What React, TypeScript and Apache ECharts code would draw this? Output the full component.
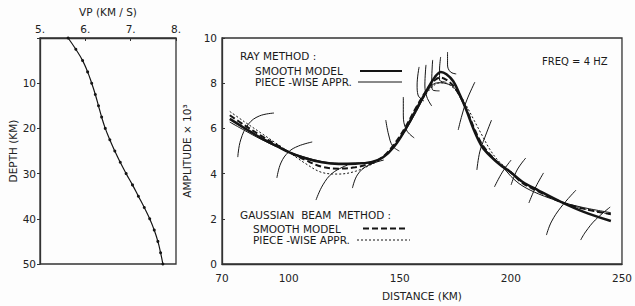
import React, { useEffect, useRef } from 'react';
import * as echarts from 'echarts';

// ---- Left panel: velocity profile ----
const depthKm = [0, 2.5, 5, 7.5, 10, 12.5, 15, 17.5, 20, 22.5, 25, 27.5, 30, 32.5, 35, 37.5, 40, 42.5, 45, 47.5, 50];
const vpKmS = [5.62, 5.79, 5.94, 6.05, 6.14, 6.22, 6.29, 6.36, 6.44, 6.54, 6.65, 6.77, 6.9, 7.04, 7.17, 7.3, 7.42, 7.52, 7.6, 7.66, 7.71];
const vpTicks = [5, 6, 7, 8];
const depthTicks = [10, 20, 30, 40, 50];

// ---- Right panel: amplitude vs distance ----
const distanceKm = [73.5, 80, 87.5, 95, 100, 107.5, 115, 122.5, 130, 137.5, 142.5, 147.5, 152.5, 157.5, 162.5, 166, 168.5, 171, 174, 177, 180, 183.5, 187, 191, 195, 200, 205, 212.5, 222.5, 232.5, 245];
const raySmooth = [6.42, 6.02, 5.58, 5.2, 4.95, 4.68, 4.5, 4.43, 4.44, 4.52, 4.72, 5.2, 5.95, 6.85, 7.75, 8.3, 8.5, 8.4, 8.1, 7.5, 6.8, 5.9, 5.2, 4.75, 4.4, 4.05, 3.65, 3.25, 2.75, 2.32, 1.9];
const rayPiecewise = [6.28, 5.92, 5.52, 5.17, 4.95, 4.72, 4.53, 4.46, 4.47, 4.53, 4.72, 5.2, 5.9, 6.75, 7.65, 8.0, 8.02, 7.98, 7.85, 7.4, 6.8, 5.95, 5.25, 4.8, 4.45, 3.88, 3.47, 3.1, 2.75, 2.5, 2.27];
const gbSmooth = [6.58, 6.15, 5.68, 5.25, 4.96, 4.6, 4.3, 4.22, 4.28, 4.47, 4.75, 5.3, 6.05, 6.95, 7.75, 8.15, 8.25, 8.15, 7.9, 7.45, 6.85, 6.0, 5.3, 4.8, 4.42, 4.05, 3.6, 3.2, 2.75, 2.45, 2.2];
const gbPiecewise = [6.75, 6.3, 5.8, 5.3, 4.96, 4.45, 4.05, 3.98, 4.1, 4.42, 4.72, 5.28, 6.0, 6.85, 7.6, 7.95, 8.02, 8.0, 7.8, 7.5, 7.0, 6.35, 5.7, 5.0, 4.5, 4.1, 3.62, 3.22, 2.75, 2.45, 2.2];

// short ray-method branches of the piece-wise model: [distance, amplitude]
const rayBranches: number[][][] = [
  [[77.1, 4.73], [78.4, 5.49], [81.9, 6.19], [86.8, 6.55], [93.4, 6.68]],
  [[94.7, 3.81], [96.5, 4.47], [100, 4.96], [104.4, 5.22], [110.6, 5.4]],
  [[112.3, 2.83], [115.4, 3.5], [119.8, 4.03], [126.5, 4.38]],
  [[128.7, 3.36], [130.9, 3.94], [135.3, 4.34], [142.8, 4.6]],
  [[143.7, 6.37], [145, 5.71], [146.8, 5.22], [149.8, 5.0]],
  [[151.6, 7.39], [151.6, 6.59], [153, 5.93], [156.5, 5.58]],
  [[158.7, 8.72], [157.8, 7.92], [158.2, 7.48], [160.9, 7.21]],
  [[161.8, 8.81], [161.3, 7.92], [162.2, 7.39], [164.4, 6.99]],
  [[164.8, 9.03], [164.4, 8.14], [164.8, 7.7], [167.9, 7.66]],
  [[168.4, 9.16], [167.9, 8.58], [167.9, 8.14], [170.6, 8.05]],
  [[171.5, 9.38], [171.5, 8.81], [172.8, 8.5], [175.4, 8.41]],
  [[183.8, 8.05], [180.2, 7.26], [178, 6.59], [176.3, 5.93]],
  [[191.3, 6.37], [188.2, 5.58], [186, 4.96], [184.7, 4.16]],
  [[200.1, 4.6], [196.2, 4.07], [192.6, 3.41]],
  [[206.7, 4.69], [202.8, 4.16], [200.1, 3.5]],
  [[214.7, 4.03], [211.2, 3.41], [208.1, 2.7]],
  [[229.3, 3.27], [222.6, 2.52], [218.2, 1.86], [216, 1.28]],
  [[244.7, 2.52], [238, 1.95], [233.6, 1.42], [231.4, 1.06]],
];
const distanceTicks = [70, 100, 150, 200, 250];
const ampTicks = [0, 2, 4, 6, 8, 10];

const INK = '#151515';
const AXIS = '#333';
const FONT = 'DejaVu Sans';

export default function App() {
  const ref = useRef<HTMLDivElement>(null);
  useEffect(() => {
    document.body.style.margin = '0';
    const chart = echarts.init(ref.current!, null, { renderer: 'svg' });
    const pair = (xs: number[], ys: number[]) => xs.map((x, i) => [x, ys[i]]);
    const axisLine = { show: true, lineStyle: { color: AXIS, width: 1.3 } };
    const label = { color: '#222', fontFamily: FONT, fontSize: 10.5 };
    const nameStyle = { color: '#222', fontFamily: FONT, fontSize: 10.5 };
    const txt = (text: string, x: number, y: number, size = 10.5) => ({
      type: 'text', x, y,
      style: { text, fill: '#1a1a1a', font: `${size}px "${FONT}"`, verticalAlign: 'middle' },
    });
    const lg = (x1: number, x2: number, y: number, w: number, dash?: number[]) => ({
      type: 'line',
      shape: { x1, y1: y, x2, y2: y },
      style: { stroke: INK, lineWidth: w, lineDash: dash || null },
    });

    const curve = (data: number[], width: number, type: any) => ({
      type: 'line', xAxisIndex: 1, yAxisIndex: 1, data: pair(distanceKm, data),
      smooth: 0.35, showSymbol: false, symbol: 'none',
      lineStyle: { color: INK, width, type },
      z: 3,
    });

    chart.setOption({
      animation: false,
      backgroundColor: '#fdfdfd',
      grid: [
        { left: 40, top: 38, width: 136, height: 226, show: true, borderColor: AXIS, borderWidth: 1.3, backgroundColor: 'transparent' },
        { left: 222, top: 38, width: 408, height: 226, show: true, borderColor: AXIS, borderWidth: 1.3, backgroundColor: 'transparent' },
      ],
      xAxis: [
        {
          gridIndex: 0, type: 'value', position: 'top', min: 5, max: 8, interval: 1,
          axisLine, splitLine: { show: false },
          axisTick: { show: true, inside: true, length: 3, lineStyle: { color: AXIS } },
          axisLabel: { ...label, margin: 4, formatter: (v: number) => (vpTicks.includes(v) ? `${v}.` : '') },
          name: 'VP (KM / S)', nameLocation: 'middle', nameGap: 21, nameTextStyle: nameStyle,
        },
        {
          gridIndex: 1, type: 'value', min: 70, max: 250, interval: 10,
          axisLine, splitLine: { show: false }, axisTick: { show: false },
          axisLabel: { ...label, margin: 8, formatter: (v: number) => (distanceTicks.includes(Math.round(v)) ? String(Math.round(v)) : '') },
          name: 'DISTANCE (KM)', nameLocation: 'middle', nameGap: 26, nameTextStyle: nameStyle,
        },
      ],
      yAxis: [
        {
          gridIndex: 0, type: 'value', inverse: true, min: 0, max: 50, interval: 10,
          axisLine, splitLine: { show: false },
          axisTick: { show: true, length: 3, lineStyle: { color: AXIS } },
          axisLabel: { ...label, margin: 4, formatter: (v: number) => (depthTicks.includes(v) ? String(v) : '') },
          name: 'DEPTH (KM)', nameLocation: 'middle', nameGap: 22, nameTextStyle: nameStyle,
        },
        {
          gridIndex: 1, type: 'value', min: 0, max: 10, interval: 2,
          axisLine, splitLine: { show: false },
          axisTick: { show: true, inside: true, length: 3, lineStyle: { color: AXIS } },
          axisLabel: { ...label, margin: 5, formatter: (v: number) => (ampTicks.includes(v) ? String(v) : '') },
          name: 'AMPLITUDE × 10³', nameLocation: 'middle', nameGap: 20, nameTextStyle: nameStyle,
        },
      ],
      series: [
        {
          type: 'line', xAxisIndex: 0, yAxisIndex: 0, data: pair(vpKmS, depthKm),
          smooth: 0.5, symbol: 'circle', symbolSize: 3, showSymbol: true,
          lineStyle: { color: INK, width: 1.2 }, itemStyle: { color: INK },
        },
        curve(raySmooth, 2.5, 'solid'),
        curve(rayPiecewise, 1, 'solid'),
        curve(gbSmooth, 2, [6, 3]),
        curve(gbPiecewise, 1, [2, 2]),
        ...rayBranches.map((b) => ({
          type: 'line', xAxisIndex: 1, yAxisIndex: 1, data: b,
          smooth: 0.4, showSymbol: false, symbol: 'none',
          lineStyle: { color: INK, width: 1 }, z: 2,
        })),
      ],
      graphic: [
        txt('RAY METHOD :', 240, 56),
        txt('SMOOTH MODEL', 255, 71),
        txt('PIECE -WISE APPR.', 255, 82),
        lg(360, 402, 71, 2.2),
        lg(358, 402, 82, 1),
        txt('FREQ = 4 HZ', 542, 61, 10),
        txt('GAUSSIAN  BEAM  METHOD :', 240, 215),
        txt('SMOOTH MODEL', 253, 228.5),
        txt('PIECE -WISE APPR.', 253, 240),
        lg(363, 408, 228.5, 2, [6, 3]),
        lg(357, 410, 240, 1, [2, 2]),
      ],
    });
    return () => chart.dispose();
  }, []);
  return <div ref={ref} style={{ width: 635, height: 306 }} />;
}
